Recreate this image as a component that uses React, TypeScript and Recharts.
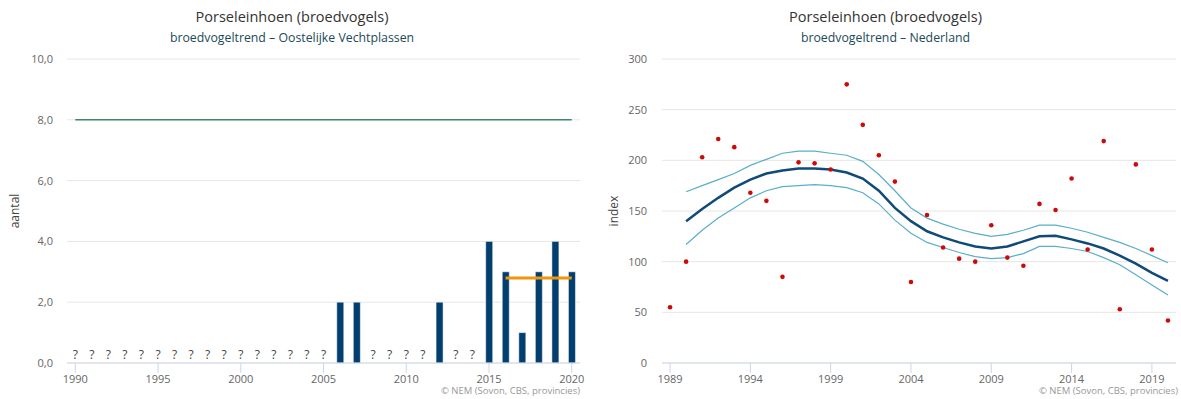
import React from "react";
import { ComposedChart, Bar, Line, XAxis, YAxis, CartesianGrid } from "recharts";

const FONT = "'Open Sans', 'DejaVu Sans', sans-serif";

// left chart: Oostelijke Vechtplassen
const YEARS_LOCAL = Array.from({ length: 31 }, (_, i) => 1990 + i);
const COUNT_YEARS = [2006, 2007, 2012, 2015, 2016, 2017, 2018, 2019, 2020];
const COUNT_VALUES = [2, 2, 2, 4, 3, 1, 3, 4, 3];
const UNKNOWN_YEARS = [
  1990, 1991, 1992, 1993, 1994, 1995, 1996, 1997, 1998, 1999, 2000, 2001, 2002, 2003, 2004, 2005,
  2008, 2009, 2010, 2011, 2013, 2014,
];
const NORM_LEVEL = 8;
const MEAN_YEARS = [2016, 2017, 2018, 2019, 2020];
const MEAN_LEVEL = 2.8;
const LOCAL_TICKS = [0, 2, 4, 6, 8, 10];

// right chart: Nederland
const YEARS_NL = Array.from({ length: 32 }, (_, i) => 1989 + i);
const INDEX_POINTS = [
  55, 100, 203, 221, 213, 168, 160, 85, 198, 197, 191, 275, 235, 205, 179, 80,
  146, 114, 103, 100, 136, 104, 96, 157, 151, 182, 112, 219, 53, 196, 112, 42,
];
const TREND = [
  null, 140, 152, 163, 173, 181, 187, 190, 192, 192, 191, 188, 182, 170, 153, 140,
  130, 124, 119, 115, 113, 115, 120, 125, 125.5, 122, 118, 113, 106, 98, 89, 81,
];
const UPPER = [
  null, 169, 175, 181, 187, 195, 201, 207, 209, 209, 207, 205, 199, 186, 170, 153,
  143, 137, 132, 128, 125, 127, 131, 136, 136, 133, 129, 124, 119, 113, 106, 99,
];
const LOWER = [
  null, 117, 131, 143, 153, 163, 170, 174, 175, 176, 175, 173, 168, 157, 141, 128,
  119, 114, 109, 105, 103, 104, 108, 115, 115, 113, 110, 104, 97, 87, 77, 67,
];
const NL_Y_TICKS = [0, 50, 100, 150, 200, 250, 300];
const NL_X_TICKS = [1989, 1994, 1999, 2004, 2009, 2014, 2019];

const localData = YEARS_LOCAL.map((y) => {
  const ci = COUNT_YEARS.indexOf(y);
  return {
    year: String(y),
    count: ci >= 0 ? COUNT_VALUES[ci] : null,
    unknown: UNKNOWN_YEARS.includes(y) ? 0 : null,
    norm: NORM_LEVEL,
    mean: MEAN_YEARS.includes(y) ? MEAN_LEVEL : null,
  };
});

const nlData = YEARS_NL.map((y, i) => ({
  year: y,
  index: INDEX_POINTS[i],
  trend: TREND[i],
  upper: UPPER[i],
  lower: LOWER[i],
}));

const tickStyle = { fill: "#666", fontSize: 11, fontFamily: FONT };

const QuestionMark = (props: any) => {
  const { cx, cy, index } = props;
  if (cx == null || cy == null || props.value == null) return <g key={index} />;
  return (
    <text key={index} x={cx} y={cy - 4} textAnchor="middle" fontSize={12} fill="#444" fontFamily={FONT}>
      ?
    </text>
  );
};

function Titles({ left, width, sub }: { left: number; width: number; sub: string }) {
  return (
    <>
      <div
        style={{
          position: "absolute", left, top: 7, width, textAlign: "center",
          fontFamily: FONT, fontSize: 14.5, color: "#333",
        }}
      >
        Porseleinhoen (broedvogels)
      </div>
      <div
        style={{
          position: "absolute", left, top: 29, width, textAlign: "center",
          fontFamily: FONT, fontSize: 12.3, color: "#1b4a58",
        }}
      >
        {sub}
      </div>
    </>
  );
}

function Credit({ right }: { right: number }) {
  return (
    <div
      style={{
        position: "absolute", right, top: 384, fontFamily: FONT, fontSize: 9.5, color: "#999",
        whiteSpace: "nowrap",
      }}
    >
      © NEM (Sovon, CBS, provincies)
    </div>
  );
}

export default function App() {
  return (
    <div style={{ position: "absolute", left: 0, top: 0, width: 1181, height: 399, background: "#fff", overflow: "hidden" }}>
      <Titles left={0} width={584} sub="broedvogeltrend – Oostelijke Vechtplassen" />
      <Titles left={590} width={591} sub="broedvogeltrend – Nederland" />

      <div style={{ position: "absolute", left: 0, top: 0 }}>
        <ComposedChart width={590} height={399} data={localData} margin={{ top: 59, right: 10, bottom: 6, left: 0 }} barCategoryGap={0}>
          <CartesianGrid vertical={false} stroke="#e6e6e6" />
          <XAxis
            dataKey="year"
            interval={4}
            height={30}
            tick={tickStyle}
            tickSize={10}
            tickMargin={2}
            stroke="#ccd6eb"
            tickLine={{ stroke: "#ccd6eb" }}
          />
          <YAxis
            width={67}
            domain={[0, 10]}
            ticks={LOCAL_TICKS}
            tickFormatter={(v: number) => v.toFixed(1).replace(".", ",")}
            tick={tickStyle}
            axisLine={false}
            tickLine={false}
            tickMargin={8}
            label={{ value: "aantal", angle: -90, position: "insideLeft", offset: 15, style: { fill: "#444", fontSize: 12, fontFamily: FONT, textAnchor: "middle" } }}
          />
          <Bar dataKey="count" fill="#023f6e" stroke="#fff" strokeWidth={0.5} barSize={7} isAnimationActive={false} />
          <Line dataKey="norm" stroke="#3b8a68" strokeWidth={1.5} dot={false} isAnimationActive={false} />
          <Line dataKey="mean" stroke="#f0950c" strokeWidth={3} dot={false} isAnimationActive={false} />
          <Line dataKey="unknown" stroke="none" dot={<QuestionMark />} activeDot={false} isAnimationActive={false} />
        </ComposedChart>
      </div>

      <div style={{ position: "absolute", left: 590, top: 0 }}>
        <ComposedChart width={591} height={399} data={nlData} margin={{ top: 59, right: 5, bottom: 6, left: 0 }}>
          <CartesianGrid vertical={false} stroke="#e6e6e6" />
          <XAxis
            dataKey="year"
            type="number"
            domain={[1988.5, 2020.5]}
            ticks={NL_X_TICKS}
            height={30}
            tick={tickStyle}
            tickSize={10}
            tickMargin={2}
            stroke="#ccd6eb"
            tickLine={{ stroke: "#ccd6eb" }}
          />
          <YAxis
            width={72}
            domain={[0, 300]}
            ticks={NL_Y_TICKS}
            tick={tickStyle}
            axisLine={false}
            tickLine={false}
            tickMargin={9}
            label={{ value: "index", angle: -90, position: "insideLeft", offset: 24, style: { fill: "#444", fontSize: 12, fontFamily: FONT, textAnchor: "middle" } }}
          />
          <Line dataKey="upper" stroke="#5aaec8" strokeWidth={1.2} dot={false} isAnimationActive={false} />
          <Line dataKey="lower" stroke="#5aaec8" strokeWidth={1.2} dot={false} isAnimationActive={false} />
          <Line dataKey="trend" stroke="#0f4a78" strokeWidth={2.5} dot={false} isAnimationActive={false} />
          <Line dataKey="index" stroke="none" dot={{ r: 2.3, fill: "#cc0a0a", stroke: "none" }} activeDot={false} isAnimationActive={false} />
        </ComposedChart>
      </div>

      <Credit right={601} />
      <Credit right={3} />
    </div>
  );
}
